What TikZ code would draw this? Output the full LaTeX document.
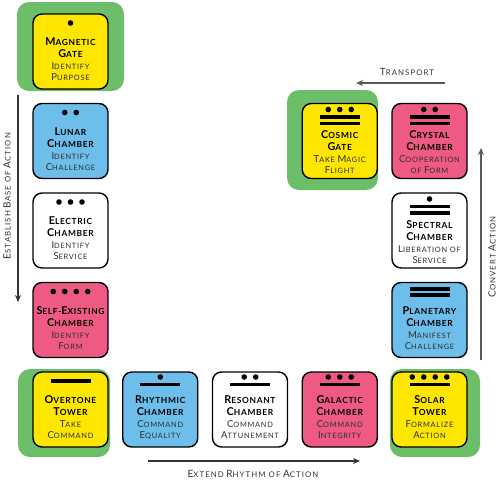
\documentclass[tikz,border=0pt]{standalone}
\usepackage{fontspec}
\setmainfont{Lato}
\newfontfamily\titlefam[LetterSpace=8]{Lato}
\newfontfamily\subfam[LetterSpace=10]{Lato}
\newfontfamily\labfam[LetterSpace=14]{Lato}
\usetikzlibrary{arrows.meta,calc}
\definecolor{tyellow}{RGB}{255,230,0}
\definecolor{tblue}{RGB}{110,190,235}
\definecolor{tpink}{RGB}{238,90,132}
\definecolor{tgreen}{RGB}{108,190,104}
\definecolor{subtxt}{RGB}{45,45,45}
\newcommand\Ti[2]{{\titlefam\fontsize{10.8}{12}\selectfont\bfseries #1{\fontsize{8.4}{12}\selectfont #2}}}
\newcommand\Su[2]{{\subfam\fontsize{9.5}{12}\selectfont\color{subtxt}#1{\fontsize{7.4}{12}\selectfont #2}}}
\newcommand\La[2]{{\labfam\fontsize{10}{12}\selectfont #1{\fontsize{7.8}{12}\selectfont #2}}}
\newcommand\mdots[3]{\foreach \k in {1,...,#1}{\fill ({#2+(\k-(#1+1)/2)*11.5},#3) circle[radius=2.8pt];}}
\newcommand\mbar[2]{\fill ({#1-20},{#2-1.8}) rectangle ({#1+20},{#2+1.8});}
\begin{document}
\begin{tikzpicture}[x=1pt,y=-1pt,
 tilebox/.style={draw=black, line width=1.4pt, rounded corners=9pt, minimum width=75pt, minimum height=75pt, inner sep=0pt},
 txt/.style={align=center, inner sep=0pt, font=\fontsize{10}{12}\selectfont},
 glow/.style={fill=tgreen, rounded corners=12pt},
 flow/.style={line width=1.1pt, draw=black!80, -{Stealth[length=7pt,width=6pt]}},
 flowlabel/.style={inner sep=0pt, text=black!80}]
\useasboundingbox (0,0) rectangle (500,480);
% green backgrounds
\fill[glow] (17,2) rectangle (124,91);
\fill[glow] (287,90) rectangle (378,190);
\fill[glow] (18,369) rectangle (110,457);
\fill[glow] (390,369) rectangle (480,457);
% tiles
\node[tilebox, fill=tyellow] (magnetic) at (70.5,51.5) {};
\node[tilebox, fill=tblue] (lunar) at (70.5,141) {};
\node[tilebox, fill=white] (electric) at (70.5,230.5) {};
\node[tilebox, fill=tpink] (selfexisting) at (70.5,320) {};
\node[tilebox, fill=tyellow] (overtone) at (70.5,409.5) {};
\node[tilebox, fill=tblue] (rhythmic) at (160.25,409.5) {};
\node[tilebox, fill=white] (resonant) at (250,409.5) {};
\node[tilebox, fill=tpink] (galactic) at (339.75,409.5) {};
\node[tilebox, fill=tyellow] (solar) at (429.5,409.5) {};
\node[tilebox, fill=tblue] (planetary) at (429.5,320) {};
\node[tilebox, fill=white] (spectral) at (429.5,230.5) {};
\node[tilebox, fill=tpink] (crystal) at (429.5,141) {};
\node[tilebox, fill=tyellow] (cosmic) at (339.75,141) {};
% numerals
\mdots{1}{70.5}{23}
\mdots{2}{70.5}{112.5}
\mdots{3}{70.5}{202}
\mdots{4}{70.5}{291.5}
\mbar{70.5}{381}
\mdots{1}{160.25}{377}\mbar{160.25}{384.5}
\mdots{2}{250}{377}\mbar{250}{384.5}
\mdots{3}{339.75}{377}\mbar{339.75}{384.5}
\mdots{4}{429.5}{377}\mbar{429.5}{384.5}
\mbar{429.5}{289}\mbar{429.5}{295}
\mdots{1}{429.5}{199}\mbar{429.5}{206.5}\mbar{429.5}{213}
\mdots{2}{429.5}{109.5}\mbar{429.5}{117}\mbar{429.5}{123.5}
\mdots{3}{339.75}{109.5}\mbar{339.75}{117}\mbar{339.75}{123.5}
% texts
\node[txt] (magnetic-t) at (70.5,59.5) {\Ti{M}{AGNETIC}\\\Ti{G}{ATE}\\\Su{I}{DENTIFY}\\[-1pt]\Su{P}{URPOSE}};
\node[txt] (lunar-t) at (70.5,149) {\Ti{L}{UNAR}\\\Ti{C}{HAMBER}\\\Su{I}{DENTIFY}\\[-1pt]\Su{C}{HALLENGE}};
\node[txt] (electric-t) at (70.5,238.5) {\Ti{E}{LECTRIC}\\\Ti{C}{HAMBER}\\\Su{I}{DENTIFY}\\[-1pt]\Su{S}{ERVICE}};
\node[txt] (selfexisting-t) at (70.5,328) {\Ti{S}{ELF-}\Ti{E}{XISTING}\\\Ti{C}{HAMBER}\\\Su{I}{DENTIFY}\\[-1pt]\Su{F}{ORM}};
\node[txt] (overtone-t) at (70.5,417.5) {\Ti{O}{VERTONE}\\\Ti{T}{OWER}\\\Su{T}{AKE}\\[-1pt]\Su{C}{OMMAND}};
\node[txt] (rhythmic-t) at (160.25,417.5) {\Ti{R}{HYTHMIC}\\\Ti{C}{HAMBER}\\\Su{C}{OMMAND}\\[-1pt]\Su{E}{QUALITY}};
\node[txt] (resonant-t) at (250,417.5) {\Ti{R}{ESONANT}\\\Ti{C}{HAMBER}\\\Su{C}{OMMAND}\\[-1pt]\Su{A}{TTUNEMENT}};
\node[txt] (galactic-t) at (339.75,417.5) {\Ti{G}{ALACTIC}\\\Ti{C}{HAMBER}\\\Su{C}{OMMAND}\\[-1pt]\Su{I}{NTEGRITY}};
\node[txt] (solar-t) at (429.5,417.5) {\Ti{S}{OLAR}\\\Ti{T}{OWER}\\\Su{F}{ORMALIZE}\\[-1pt]\Su{A}{CTION}};
\node[txt] (planetary-t) at (429.5,328) {\Ti{P}{LANETARY}\\\Ti{C}{HAMBER}\\\Su{M}{ANIFEST}\\[-1pt]\Su{C}{HALLENGE}};
\node[txt] (spectral-t) at (429.5,242) {\Ti{S}{PECTRAL}\\\Ti{C}{HAMBER}\\\Su{L}{IBERATION OF}\\[-1pt]\Su{S}{ERVICE}};
\node[txt] (crystal-t) at (429.5,152.5) {\Ti{C}{RYSTAL}\\\Ti{C}{HAMBER}\\\Su{C}{OOPERATION}\\[-1pt]\Su{}{OF} \Su{F}{ORM}};
\node[txt] (cosmic-t) at (339.75,152.5) {\Ti{C}{OSMIC}\\\Ti{G}{ATE}\\\Su{T}{AKE} \Su{M}{AGIC}\\[-1pt]\Su{F}{LIGHT}};
% flow arrows
\coordinate (l1) at (18,95); \coordinate (l2) at (18,302);
\coordinate (b1) at (148,461); \coordinate (b2) at (360,461);
\coordinate (r1) at (481,360); \coordinate (r2) at (481,148);
\coordinate (t1) at (445,83); \coordinate (t2) at (356,83);
\draw[flow] (l1) -- (l2);
\draw[flow] (b1) -- (b2);
\draw[flow, draw=black!65] (r1) -- (r2);
\draw[flow, draw=black!65] (t1) -- (t2);
\node[flowlabel, rotate=90] (l-lab) at (7,196) {\La{E}{STABLISH} \La{B}{ASE OF} \La{A}{CTION}};
\node[flowlabel] (b-lab) at (253,474) {\La{E}{XTEND} \La{R}{HYTHM OF} \La{A}{CTION}};
\node[flowlabel, rotate=90] (r-lab) at (492,257) {\La{C}{ONVERT} \La{A}{CTION}};
\node[flowlabel] (t-lab) at (407,72) {\La{T}{RANSPORT}};
\end{tikzpicture}
\end{document}
